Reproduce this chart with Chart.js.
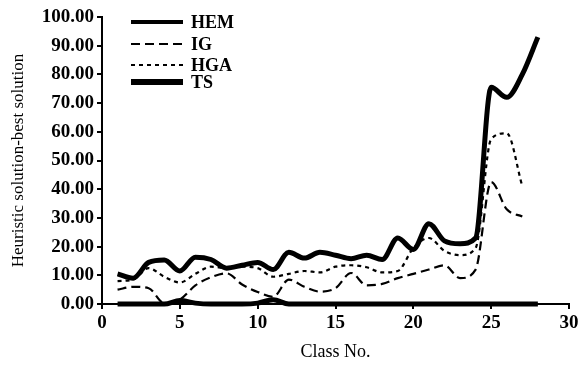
<!DOCTYPE html>
<html>
<head>
<meta charset="utf-8">
<script src="https://cdn.jsdelivr.net/npm/chart.js@4"></script>
<style>
  html, body { margin: 0; padding: 0; background: #fff; }
</style>
</head>
<body>
<canvas id="chart" width="584" height="379"></canvas>
<script>
// class numbers on the x axis
const classes = [1, 2, 3, 4, 5, 6, 7, 8, 9, 10, 11, 12, 13, 14, 15, 16, 17, 18, 19, 20, 21, 22, 23, 24, 25, 26, 27, 28];

// heuristic solution - best solution, per method
const hem = [10.5, 9, 14.5, 15.3, 11.5, 16.3, 15.5, 12.5, 13.5, 14.5, 12, 18, 16, 18, 17, 15.8, 17, 15.5, 23, 19, 28, 22, 21, 23, 75.5, 72, 80, 93];
const ig = [5, 6, 5.5, 0.3, 1.5, 6.5, 9.3, 10.7, 6.8, 4.2, 2.5, 8.5, 6, 4.3, 5.5, 10.8, 6.5, 7, 9, 10.5, 12, 13.5, 9, 12, 42.5, 33, 30.5];
const hga = [8, 8.5, 12.5, 9.5, 7.5, 10.5, 13, 12.5, 13, 12.5, 9.5, 10.5, 11.5, 11, 13, 13.5, 12.8, 11, 11.5, 19.5, 23, 18.5, 17, 19.5, 57.5, 59.5, 41];
const ts = [0, 0, 0, 0, 1.2, 0.3, 0, 0, 0, 0.3, 1.5, 0, 0, 0, 0, 0, 0, 0, 0, 0, 0, 0, 0, 0, 0, 0, 0, 0];

const yTicks = [0, 10, 20, 30, 40, 50, 60, 70, 80, 90, 100];

const toPoints = (vals) => vals.map((v, i) => ({ x: classes[i], y: v }));

const serif = "'Liberation Serif', 'Times New Roman', serif";

// legend drawn as line samples, like the original figure
const lineLegend = {
  id: "lineLegend",
  afterDraw(chart) {
    const ctx = chart.ctx;
    const rows = [22, 44, 65, 82];
    const widths = [4, 2, 2, 6];
    chart.data.datasets.forEach((ds, i) => {
      ctx.save();
      ctx.strokeStyle = "#000";
      ctx.lineWidth = widths[i];
      ctx.setLineDash(ds.borderDash || []);
      ctx.beginPath();
      ctx.moveTo(131, rows[i]);
      ctx.lineTo(183, rows[i]);
      ctx.stroke();
      ctx.setLineDash([]);
      ctx.fillStyle = "#000";
      ctx.font = "bold 18px " + serif;
      ctx.textBaseline = "middle";
      ctx.fillText(ds.label, 191, rows[i] + 1);
      ctx.restore();
    });
  }
};

new Chart(document.getElementById("chart"), {
  type: "line",
  data: {
    datasets: [
      { label: "HEM", data: toPoints(hem), borderColor: "#000", borderWidth: 5 },
      { label: "IG", data: toPoints(ig), borderColor: "#000", borderWidth: 2.2, borderDash: [9, 5] },
      { label: "HGA", data: toPoints(hga), borderColor: "#000", borderWidth: 2.2, borderDash: [4, 4] },
      { label: "TS", data: toPoints(ts), borderColor: "#000", borderWidth: 5 }
    ]
  },
  options: {
    responsive: false,
    animation: false,
    layout: { padding: { left: 0, right: 15, top: 17, bottom: 10 } },
    elements: {
      point: { radius: 0 },
      line: { cubicInterpolationMode: "monotone", fill: false, borderCapStyle: "butt" }
    },
    datasets: { line: { clip: false } },
    plugins: { legend: { display: false }, tooltip: { enabled: false } },
    scales: {
      x: {
        type: "linear",
        min: 0,
        max: 30,
        ticks: { stepSize: 5, color: "#000", padding: 3, maxRotation: 0, font: { family: serif, size: 19, weight: "bold" } },
        grid: { drawOnChartArea: false, tickLength: 5, color: "#000", lineWidth: 2 },
        border: { color: "#000", width: 2 },
        title: { display: true, text: "Class No.", color: "#000", padding: { top: 7, bottom: 6 }, font: { family: serif, size: 18 } },
        afterFit(s) { s.height = 65; }
      },
      y: {
        min: 0,
        max: 100,
        afterBuildTicks(s) { s.ticks = yTicks.map((v) => ({ value: v })); },
        ticks: { color: "#000", padding: 3, font: { family: serif, size: 19, weight: "bold" }, callback: (v) => Number(v).toFixed(2) },
        grid: { drawOnChartArea: false, tickLength: 5, color: "#000", lineWidth: 2 },
        border: { color: "#000", width: 2 },
        title: { display: true, text: "Heuristic solution-best solution", color: "#000", padding: { top: 8, bottom: 7 }, font: { family: serif, size: 17 } },
        afterFit(s) { s.width = 102; }
      }
    }
  },
  plugins: [lineLegend]
});
</script>
</body>
</html>
